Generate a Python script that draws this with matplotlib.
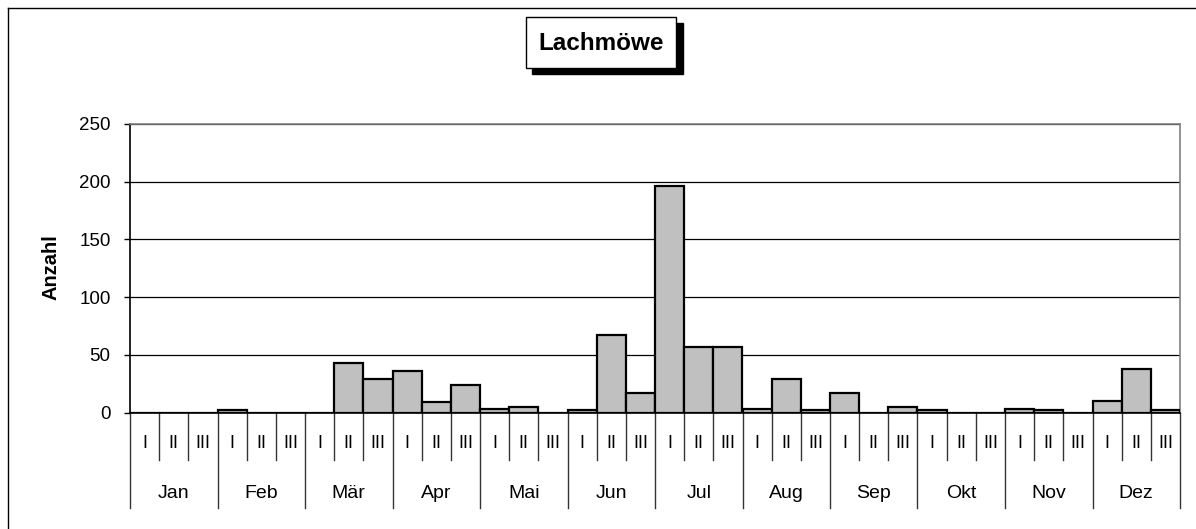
import matplotlib
matplotlib.use('Agg')
from matplotlib import pyplot as plt
from matplotlib.patches import Rectangle
from matplotlib.lines import Line2D
import matplotlib.transforms as mtransforms

plt.rcParams['font.family'] = ['Liberation Sans', 'DejaVu Sans']

# Daten: Lachmöwe, Anzahl je Monatsdrittel
monate = ['Jan', 'Feb', 'Mär', 'Apr', 'Mai', 'Jun', 'Jul', 'Aug', 'Sep', 'Okt', 'Nov', 'Dez']
dekaden = ['I', 'II', 'III']
anzahl = [0, 0, 0,   2, 0, 0,    0, 43, 29,  36, 9, 24,
          3, 5, 0,   2, 67, 17,  196, 57, 57, 3, 29, 2,
          17, 0, 5,  2, 0, 0,    3, 2, 0,    10, 38, 2]
y_ticks = [0, 50, 100, 150, 200, 250]

W, H = 1196, 529
fig = plt.figure(figsize=(W / 100, H / 100), dpi=100)

def fx(px):
    return px / W

def fy(py):
    return 1 - py / H

# Zeichenfläche in Pixeln (von oben gemessen)
left, right, top, bottom = 130, 1180, 124, 412.5
ax = fig.add_axes([fx(left), fy(bottom), fx(right - left), (bottom - top) / H])

n = len(anzahl)
x = [i + 0.5 for i in range(n)]
ax.bar(x, anzahl, width=1.0, color='#c0c0c0', edgecolor='black', linewidth=1.6, zorder=3)

ax.set_xlim(0, n)
ax.set_ylim(0, 250)
ax.set_yticks(y_ticks)
ax.set_yticklabels([str(v) for v in y_ticks], fontsize=13.5)
ax.tick_params(axis='y', direction='out', length=4, width=1, pad=10, color='black')
ax.set_xticks([])
ax.grid(axis='y', color='black', linewidth=0.9, zorder=1)
ax.set_axisbelow(True)

for s in ['top', 'right']:
    ax.spines[s].set_color('#808080')
    ax.spines[s].set_linewidth(1.2)
ax.spines['left'].set_linewidth(1.2)
ax.spines['bottom'].set_linewidth(1.2)

fig.text(fx(51), fy(267), 'Anzahl', rotation=90, ha='center', va='center',
         fontsize=14.5, fontweight='bold')

# Kategorienachse mit zwei Ebenen
trans = mtransforms.blended_transform_factory(ax.transData, fig.transFigure)
for i in range(n + 1):
    y_end = 508 if i % 3 == 0 else 460
    ax.add_line(Line2D([i, i], [fy(bottom), fy(y_end)], transform=trans,
                       color='#333333', linewidth=1, clip_on=False))
for i in range(n):
    ax.text(i + 0.5, fy(443), dekaden[i % 3], transform=trans, ha='center', va='center', fontsize=13)
for m, name in enumerate(monate):
    ax.text(3 * m + 1.5, fy(493), name, transform=trans, ha='center', va='center', fontsize=14)

# Titel mit Schatten
fig.patches.append(Rectangle((fx(532), fy(74)), fx(151), (74 - 23) / H, transform=fig.transFigure,
                             facecolor='black', edgecolor='black', zorder=5))
fig.patches.append(Rectangle((fx(526), fy(68)), fx(150), (68 - 17) / H, transform=fig.transFigure,
                             facecolor='white', edgecolor='black', linewidth=1, zorder=6))
fig.text(fx(601), fy(43), 'Lachmöwe', ha='center', va='center', fontsize=17.5, fontweight='bold', zorder=7)

# Rahmen oben und links
fig.add_artist(Line2D([fx(8), 1], [fy(8), fy(8)], transform=fig.transFigure, color='black', linewidth=1))
fig.add_artist(Line2D([fx(8), fx(8)], [0, fy(8)], transform=fig.transFigure, color='black', linewidth=1))

fig.savefig('out.png', dpi=100)
